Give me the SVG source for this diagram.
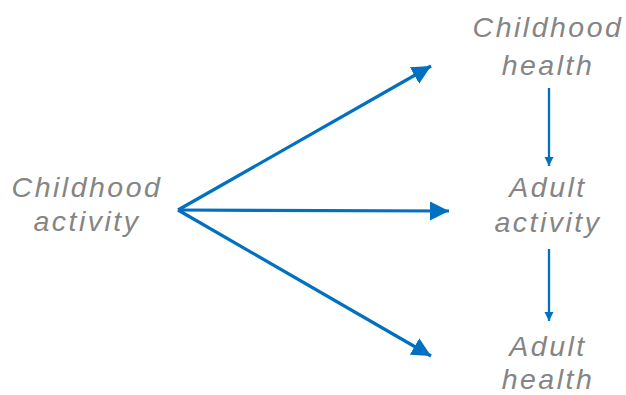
<svg xmlns="http://www.w3.org/2000/svg" width="626" height="395" viewBox="0 0 626 395">
<style>
text{font-family:"Liberation Sans",Arial,sans-serif;font-style:italic;font-size:28.5px;fill:#858585;text-anchor:middle;letter-spacing:2.5px}
.thick{stroke:#0070C0;stroke-width:3.2;fill:none}
.thin{stroke:#0070C0;stroke-width:2.3;fill:none}
</style>
<defs>
<marker id="big" viewBox="0 0 10 10" refX="10" refY="5" markerUnits="userSpaceOnUse" markerWidth="19" markerHeight="20" orient="auto"><path d="M0,0 L10,5 L0,10 Z" fill="#0070C0"/></marker>
<marker id="small" viewBox="0 0 10 10" refX="10" refY="5" markerUnits="userSpaceOnUse" markerWidth="9" markerHeight="10" orient="auto"><path d="M0,0 L10,5 L0,10 Z" fill="#0070C0"/></marker>
</defs>
<rect width="626" height="395" fill="#ffffff"/>
<g id="childhood-activity"><text x="87" y="197">Childhood</text><text x="87" y="231">activity</text></g>
<g id="childhood-health"><text x="548" y="37">Childhood</text><text x="548" y="75">health</text></g>
<g id="adult-activity"><text x="548" y="197">Adult</text><text x="548" y="232">activity</text></g>
<g id="adult-health"><text x="548" y="356">Adult</text><text x="548" y="389">health</text></g>
<g id="connectors">
<line class="thick" x1="178" y1="210" x2="431" y2="66" marker-end="url(#big)"/>
<line class="thick" x1="178" y1="210" x2="449" y2="211" marker-end="url(#big)"/>
<line class="thick" x1="178" y1="210" x2="431" y2="356" marker-end="url(#big)"/>
<line class="thin" x1="549" y1="88" x2="549" y2="166" marker-end="url(#small)"/>
<line class="thin" x1="549" y1="249" x2="549" y2="321" marker-end="url(#small)"/>
</g>
</svg>
